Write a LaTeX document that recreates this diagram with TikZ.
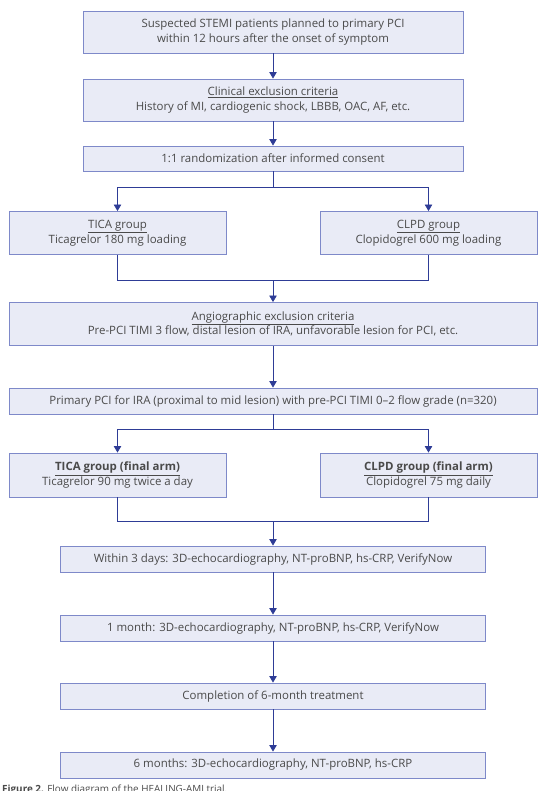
\documentclass[tikz,border=0pt]{standalone}
\usepackage{fontspec}
\setmainfont{Open Sans}
\usetikzlibrary{arrows.meta}
\definecolor{boxfill}{HTML}{E9EBF6}
\definecolor{boxline}{HTML}{7E89C9}
\definecolor{conncol}{HTML}{2E3C96}
\definecolor{txtcol}{HTML}{4A4A4A}
\tikzset{
  flowbox/.style={draw=boxline, line width=0.9pt, fill=boxfill, text=txtcol,
    align=center, inner sep=0pt, font=\fontsize{11.45}{14.5}\selectfont},
  conn/.style={draw=conncol, line width=0.8pt},
  arr/.style={conn, -{Triangle[width=7.5pt,length=6.5pt]}},
}
\begin{document}
\begin{tikzpicture}[x=1pt,y=-1pt]
\useasboundingbox (0,0) rectangle (538,791);
% boxes
\node[flowbox, minimum width=380pt, minimum height=42pt] (b1) at (273,32)
  {Suspected STEMI patients planned to primary PCI\\within 12 hours after the onset of symptom};
\node[flowbox, minimum width=380pt, minimum height=42pt] (b2) at (273,100)
  {\underline{Clinical exclusion criteria}\\History of MI, cardiogenic shock, LBBB, OAC, AF, etc.};
\node[flowbox, minimum width=380pt, minimum height=25pt] (b3) at (273,158.5)
  {1:1 randomization after informed consent};
\node[flowbox, minimum width=217pt, minimum height=43pt] (tica) at (117.5,233)
  {\underline{TICA group}\\Ticagrelor 180 mg loading};
\node[flowbox, minimum width=217pt, minimum height=43pt] (clpd) at (428.5,233)
  {\underline{CLPD group}\\Clopidogrel 600 mg loading};
\node[flowbox, minimum width=528pt, minimum height=43pt] (angio) at (273,324)
  {\underline{Angiographic exclusion criteria}\\Pre-PCI TIMI 3 flow, distal lesion of IRA, unfavorable lesion for PCI, etc.};
\node[flowbox, minimum width=528pt, minimum height=26pt] (pci) at (273,401)
  {Primary PCI for IRA (proximal to mid lesion) with pre-PCI TIMI 0--2 flow grade (n=320)};
\node[flowbox, minimum width=217pt, minimum height=44pt] (ticaf) at (117.5,475)
  {\underline{\textbf{TICA group (final arm)}}\\Ticagrelor 90 mg twice a day};
\node[flowbox, minimum width=217pt, minimum height=44pt] (clpdf) at (428.5,475)
  {\underline{\textbf{CLPD group (final arm)}}\\Clopidogrel 75 mg daily};
\node[flowbox, minimum width=425pt, minimum height=26pt] (d3) at (273,559)
  {Within 3 days: 3D-echocardiography, NT-proBNP, hs-CRP, VerifyNow};
\node[flowbox, minimum width=425pt, minimum height=26pt] (m1) at (273,628)
  {1 month: 3D-echocardiography, NT-proBNP, hs-CRP, VerifyNow};
\node[flowbox, minimum width=425pt, minimum height=26pt] (c6) at (273,696)
  {Completion of 6-month treatment};
\node[flowbox, minimum width=425pt, minimum height=26pt] (m6) at (273,765)
  {6 months: 3D-echocardiography, NT-proBNP, hs-CRP};
% caption (cut off at the bottom in the reference)
\node[anchor=north west, inner sep=0pt, text=txtcol, font=\fontsize{9.9}{11}\selectfont] (cap) at (2,784.5)
  {\textbf{Figure 2.} Flow diagram of the HEALING-AMI trial.};
% junction points
\coordinate (s1) at (273,187);
\coordinate (j1) at (273,280);
\coordinate (s2) at (273,429);
\coordinate (j2) at (273,521);
% connectors
\draw[arr] (b1) -- (b2);
\draw[arr] (b2) -- (b3);
\draw[conn] (b3) -- (s1);
\draw[arr] (s1) -| (tica);
\draw[arr] (s1) -| (clpd);
\draw[conn] (tica) |- (j1);
\draw[conn] (clpd) |- (j1);
\draw[arr] (j1) -- (angio);
\draw[arr] (angio) -- (pci);
\draw[conn] (pci) -- (s2);
\draw[arr] (s2) -| (ticaf);
\draw[arr] (s2) -| (clpdf);
\draw[conn] (ticaf) |- (j2);
\draw[conn] (clpdf) |- (j2);
\draw[arr] (j2) -- (d3);
\draw[arr] (d3) -- (m1);
\draw[arr] (m1) -- (c6);
\draw[arr] (c6) -- (m6);
\end{tikzpicture}
\end{document}
